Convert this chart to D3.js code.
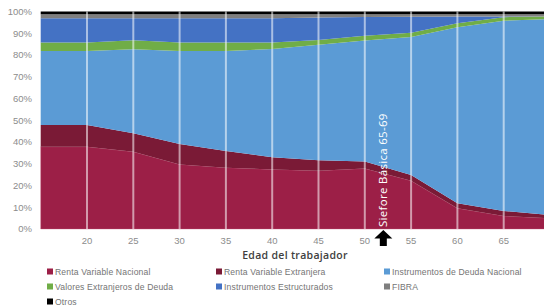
<!DOCTYPE html>
<html>
<head>
<meta charset="utf-8">
<script src="https://cdn.jsdelivr.net/npm/d3@7"></script>
<style>
  body { margin: 0; background: #fff; }
  svg { display: block; }
  .tick-label { font-family: "Liberation Sans", Arial, sans-serif; font-size: 9.5px; fill: #8c8c8c; }
  .legend-text { font-family: "Liberation Sans", Arial, sans-serif; font-size: 8.6px; fill: #747474; letter-spacing: 0.15px; }
</style>
</head>
<body>
<div id="chart"></div>
<script>
// ages along the x axis (edad del trabajador)
const ages = [15, 20, 25, 30, 35, 40, 45, 50, 55, 60, 65, 70];

// portfolio composition (%) per age, bottom to top
const rentaVariableNacional   = [37.8, 37.8, 35.5, 29.7, 28.2, 27.4, 26.8, 27.8, 22.2, 9.5, 6.0, 4.9];
const rentaVariableExtranjera = [10.0, 10.0, 8.5, 9.4, 7.7, 5.6, 4.8, 3.2, 2.6, 2.3, 2.3, 1.5];
const deudaNacional           = [34.0, 34.0, 38.6, 42.7, 45.9, 49.8, 53.1, 55.7, 63.5, 81.0, 87.5, 90.1];
const valoresExtranjeros      = [3.9, 3.9, 4.2, 3.9, 3.9, 3.0, 2.2, 2.2, 1.9, 1.8, 1.6, 1.2];
const estructurados           = [11.2, 11.2, 10.1, 11.2, 11.2, 11.1, 10.3, 8.6, 7.4, 3.1, 0.3, 0.0];
const fibra                   = [1.8, 1.8, 1.8, 1.8, 1.8, 1.8, 1.5, 1.2, 1.1, 1.0, 1.0, 1.0];
const otros                   = [1.3, 1.3, 1.3, 1.3, 1.3, 1.3, 1.3, 1.3, 1.3, 1.3, 1.3, 1.3];

const seriesNames = [
    "Renta Variable Nacional", "Renta Variable Extranjera", "Instrumentos de Deuda Nacional",
    "Valores Extranjeros de Deuda", "Instrumentos Estructurados", "FIBRA", "Otros"
];
const seriesValues = [rentaVariableNacional, rentaVariableExtranjera, deudaNacional,
    valoresExtranjeros, estructurados, fibra, otros];
const colors = ["#9c1f47", "#7a1a36", "#5b9bd5", "#70ad47", "#4472c4", "#7f7f7f", "#000000"];

const xTicks = [20, 25, 30, 35, 40, 45, 50, 55, 60, 65];
const yTicks = [0, 10, 20, 30, 40, 50, 60, 70, 80, 90, 100];

const annotationAge = 52;
const annotationText = "Siefore Básica 65-69";

const width = 544, height = 308;

const svg = d3.select("#chart").append("svg")
    .attr("width", width)
    .attr("height", height);

const x = d3.scaleLinear().domain([15, 70]).range([40.7, 550]);
const y = d3.scaleLinear().domain([0, 100]).range([229, 11.5]);

// build rows for stacking
const rows = ages.map((a, i) => {
    const row = { age: a };
    seriesNames.forEach((s, j) => { row[s] = seriesValues[j][i]; });
    return row;
});

const stacked = d3.stack().keys(seriesNames)(rows);

const area = d3.area()
    .x(d => x(d.data.age))
    .y0(d => y(d[0]))
    .y1(d => y(d[1]));

const plot = svg.append("g");

plot.selectAll(".layer")
    .data(stacked)
    .enter()
    .append("path")
    .attr("class", "layer")
    .attr("d", area)
    .attr("fill", (d, i) => colors[i])
    .attr("stroke", (d, i) => i === 0 ? "#c45a7c" : "none")
    .attr("stroke-width", 0.6)
    .attr("stroke-opacity", 0.6);

// white vertical gridlines
plot.selectAll(".vgrid")
    .data(xTicks)
    .enter()
    .append("line")
    .attr("class", "vgrid")
    .attr("x1", d => x(d)).attr("x2", d => x(d))
    .attr("y1", y(100)).attr("y2", y(0))
    .attr("stroke", "#fff")
    .attr("stroke-opacity", 0.55)
    .attr("stroke-width", 2);

// y axis labels
svg.selectAll(".ylab")
    .data(yTicks)
    .enter()
    .append("text")
    .attr("class", "tick-label")
    .attr("x", 32)
    .attr("y", d => y(d))
    .attr("dy", "0.35em")
    .attr("text-anchor", "end")
    .text(d => d + "%");

// x axis labels
svg.selectAll(".xlab")
    .data(xTicks)
    .enter()
    .append("text")
    .attr("class", "tick-label")
    .attr("x", d => x(d))
    .attr("y", 241)
    .attr("dy", "0.35em")
    .attr("text-anchor", "middle")
    .text(d => d);

// axis title
svg.append("text")
    .attr("x", 295)
    .attr("y", 255)
    .attr("dy", "0.35em")
    .attr("text-anchor", "middle")
    .style("font-family", "'Open Sans', sans-serif")
    .style("font-size", "10.5px")
    .style("font-weight", "600")
    .style("letter-spacing", "0.3px")
    .style("fill", "#404040")
    .text("Edad del trabajador");

// annotation: rotated label + arrow
const ax = x(annotationAge);
svg.append("text")
    .attr("transform", `translate(${ax},227) rotate(-90)`)
    .attr("dy", "0.35em")
    .attr("text-anchor", "start")
    .style("font-family", "'Open Sans', sans-serif")
    .style("font-size", "11.5px")
    .style("font-weight", "500")
    .style("letter-spacing", "0.3px")
    .style("fill", "#fff")
    .text(annotationText);

svg.append("path")
    .attr("d", `M${ax},230 L${ax + 9},238.5 L${ax + 3.5},238.5 L${ax + 3.5},246 L${ax - 3.5},246 L${ax - 3.5},238.5 L${ax - 9},238.5 Z`)
    .attr("fill", "#000");

// legend
const legendCols = [47, 216, 384];
const legend = svg.append("g");
seriesNames.forEach((s, i) => {
    const col = i % 3, row = Math.floor(i / 3);
    const lx = legendCols[col], ly = 271.5 + row * 15;
    legend.append("rect")
        .attr("x", lx).attr("y", ly - 3)
        .attr("width", 6).attr("height", 6)
        .attr("fill", colors[i]);
    legend.append("text")
        .attr("class", "legend-text")
        .attr("x", lx + 8)
        .attr("y", ly)
        .attr("dy", "0.35em")
        .text(s);
});
</script>
</body>
</html>
